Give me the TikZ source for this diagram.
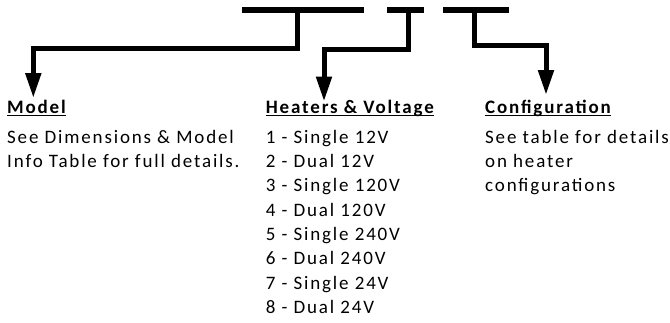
\documentclass[tikz,border=0pt]{standalone}
\usepackage{fontspec}
\setmainfont{Carlito}[LetterSpace=9.7]
\usetikzlibrary{arrows.meta}

\newcommand\ulhead[1]{\setbox0\hbox{\bfseries #1}\rlap{\rule[-2.6pt]{\wd0}{1.2pt}}\box0}

\begin{document}
\begin{tikzpicture}[
  x=1pt, y=-1pt,
  font=\fontsize{19}{24.3}\selectfont,
  head/.style = {anchor=base west, inner sep=0pt},
  body/.style = {anchor=base west, inner sep=0pt, align=left},
  bar/.style  = {black, line width=6pt},
  arr/.style  = {-{Triangle[length=25pt, width=15pt]}, black, line width=5pt}
]
\useasboundingbox (0,0) rectangle (670,322);

% code segments
\draw[bar] (242,10.3) -- (364,10.3);
\draw[bar] (387,10.3) -- (424,10.3);
\draw[bar] (443,10.3) -- (509,10.3);

\coordinate (stemA) at (297.5,10.3);
\coordinate (stemB) at (408,10.3);
\coordinate (stemC) at (474,10.3);

\node[head] (model)   at (7,113.5)     {\ulhead{Model}};
\node[head] (heaters) at (265.7,113.5) {\ulhead{Heaters \& Voltage}};
\node[head] (config)  at (485,113.5)   {\ulhead{Configuration}};

% base anchor = last line
\node[body] (modeltxt)   at (7,167.6)     {See Dimensions \& Model\\Info Table for full details.};
\node[body] (heaterlist) at (265.7,313.4) {1 - Single 12V\\2 - Dual 12V\\3 - Single 120V\\4 - Dual 120V\\5 - Single 240V\\6 - Dual 240V\\7 - Single 24V\\8 - Dual 24V};
\node[body] (configtxt)  at (485,191.9)   {See table for details\\on heater\\configurations};

\coordinate (tipA) at (33.3,98);
\coordinate (tipB) at (324,101.5);
\coordinate (tipC) at (546,95);

\draw[arr] (stemA) -- ++(0,38.2) -| (tipA);
\draw[arr] (stemB) -- ++(0,38.7) -| (tipB);
\draw[arr] (stemC) -- ++(0,35.2) -| (tipC);

\end{tikzpicture}
\end{document}
